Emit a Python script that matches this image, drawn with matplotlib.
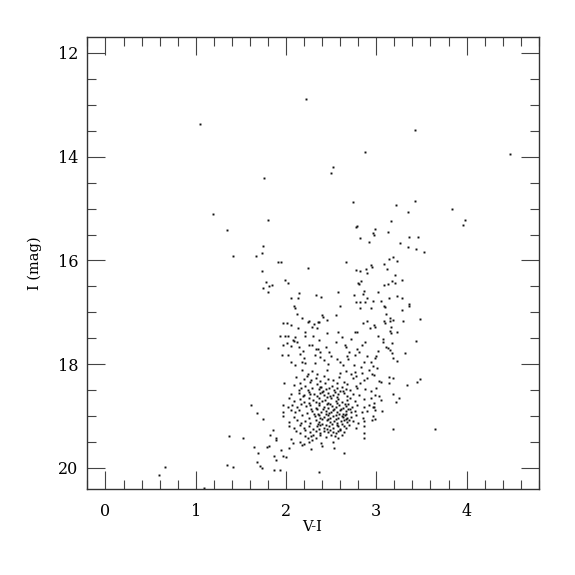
import matplotlib
matplotlib.use("Agg")
import matplotlib.pyplot as plt
import numpy as np
from matplotlib.ticker import MultipleLocator

# values (V-I colour, I magnitude)
bright = [(2.22,12.89),(1.05,13.37),(3.43,13.48),(2.88,13.90),(4.48,13.95),(2.52,14.20),(2.50,14.31),
  (1.76,14.41),(2.74,14.88),(3.43,14.85),(3.22,14.93),(3.84,15.01),(3.35,15.06),(1.19,15.10),
  (3.98,15.22),(3.96,15.32),(1.80,15.22),(3.16,15.23),(1.35,15.42),(1.41,15.92),(0.66,19.99),
  (0.59,20.14),(1.09,20.38),(1.37,19.38),(1.35,19.94),(1.41,19.99),(1.52,19.43),(3.65,19.24),(2.36,20.08)]

blue_plume = [(1.75,15.72),(1.73,15.85),(1.67,15.92),(1.91,16.03),(1.94,16.03),(1.73,16.21),(1.78,16.41),
  (1.84,16.47),(1.75,16.54),(1.81,16.50),(1.80,16.60),(1.99,16.38),(2.02,16.44),(2.24,16.14)]

rgb_upper = [(2.79,15.33),(2.78,15.36),(2.82,15.56),(2.99,15.39),(2.96,15.47),(2.97,15.50),(3.13,15.46),
  (2.92,15.65),(3.36,15.55),(3.46,15.54),(3.26,15.66),(3.35,15.75),(3.44,15.78),(3.53,15.83),(3.18,15.93),
  (3.14,15.97),(3.23,16.01),(3.08,16.06),(3.12,16.17),(3.21,16.28),(3.17,16.39),(3.21,16.43),(3.28,16.38),
  (3.08,16.47),(3.13,16.45),(2.67,16.03),(2.94,16.08),(2.95,16.12),(2.77,16.19),(2.82,16.21),(2.89,16.17),
  (2.90,16.25),(2.80,16.43),(2.81,16.46),(2.83,16.40),(2.58,16.61),(2.75,16.66),(2.86,16.58),(2.85,16.64),
  (2.90,16.72),(3.02,16.61),(3.05,16.78),(3.14,16.72),(3.23,16.68),(3.28,16.72),(2.78,16.80),(2.82,16.81),
  (2.87,16.80),(2.96,16.79),(3.09,16.87),(3.10,16.89),(2.94,16.92),(2.82,16.92),(3.36,16.83),(3.36,16.88),
  (3.28,16.96),(2.60,16.88),(2.55,17.05),(3.11,17.04),(3.15,17.10),(3.08,17.16),(3.15,17.17),(3.19,17.15),
  (3.30,17.16),(3.48,17.12),(2.85,17.20),(2.90,17.16),(2.97,17.25),(2.93,17.31),(2.99,17.28),(3.15,17.36),
  (3.23,17.38),(3.07,17.51),(3.44,17.55),(2.58,17.37),(2.76,17.37),(2.79,17.37),(3.02,17.45),(3.10,17.20),
  (3.16,17.29)]

rgb_lower = [(3.16,17.39),(3.07,17.57),(3.17,17.60),(3.11,17.66),(3.13,17.69),(3.15,17.72),(3.17,17.79),
  (3.32,17.78),(3.19,17.88),(3.23,17.93),(3.18,18.27),(3.48,18.28),(3.45,18.34),(3.14,18.36),(3.05,18.34),
  (3.34,18.40),(3.18,18.58),(3.25,18.66),(3.22,18.72),(3.05,18.68),(3.06,18.91),(3.18,19.24),
  (2.98,18.20),(3.00,18.45),(2.94,18.52),(2.90,18.90),(2.97,18.74),(2.88,18.47)]

mid_upper = [(2.14,16.62),(2.05,16.72),(2.13,16.72),(2.33,16.67),(2.39,16.71),(2.09,16.88),(2.10,16.92),
  (2.12,17.04),(2.18,17.11),(1.97,17.20),(2.01,17.21),(2.06,17.24),(2.24,17.18),(2.25,17.16),(2.40,17.06),
  (2.41,17.09),(2.45,17.14),(2.37,17.18),(2.35,17.18),(2.31,17.23),(2.13,17.31),(2.29,17.29),(2.34,17.30),
  (2.10,17.47),(1.93,17.45),(1.99,17.45),(2.02,17.46),(2.08,17.53),(2.09,17.56),(2.21,17.37),(2.21,17.45),
  (2.30,17.45),(2.37,17.54)]

clump_top = [(1.80,17.68),(1.97,17.63),(2.01,17.60),(2.05,17.65),(2.12,17.58),(2.14,17.66),(2.19,17.75),
  (2.26,17.63),(2.29,17.62),(2.33,17.70),(2.35,17.71),(2.38,17.77),(2.44,17.66),(2.48,17.77),(2.50,17.84),
  (2.66,17.66),(2.70,17.77),(2.68,17.84),(2.76,17.83),(2.79,17.70),(2.81,17.76),(3.00,17.84),(3.02,17.75),
  (1.96,17.83),(2.02,17.83),(2.65,17.62),(2.99,17.88),(2.16,17.80),(2.18,17.96),(2.32,17.82),(2.38,17.87),
  (2.42,17.92),(2.32,17.98),(2.47,18.00),(2.21,17.98),(2.63,18.01),(2.69,17.89),(2.75,18.01),(2.96,18.04),
  (3.01,18.07),(3.14,18.25),(2.20,17.88),(2.56,17.90),(2.60,17.95),(2.86,17.95),(2.83,18.05),(2.10,18.02),
  (2.05,17.95),(2.84,17.62),(2.88,17.58),(2.72,17.52),(2.62,17.48),(2.55,17.58),(2.45,17.40),(2.90,17.85),
  (2.94,17.95)]

clump_core = [
  (2.18,18.12),(2.24,18.18),(2.29,18.14),(2.34,18.19),(2.45,18.11),(2.60,18.16),(2.66,18.13),(2.72,18.19),
  (2.76,18.15),(2.84,18.17),(2.92,18.12),(2.95,18.18),
  (2.11,18.24),(2.20,18.29),(2.23,18.22),(2.28,18.30),(2.33,18.26),(2.38,18.33),(2.42,18.23),(2.47,18.28),
  (2.52,18.31),(2.59,18.25),(2.64,18.34),(2.74,18.27),(2.77,18.22),(2.86,18.30),(2.90,18.26),(3.03,18.33),
  (1.98,18.36),(2.09,18.40),(2.15,18.37),(2.21,18.42),(2.27,18.35),(2.34,18.39),(2.38,18.43),(2.43,18.36),
  (2.51,18.41),(2.56,18.37),(2.62,18.43),(2.68,18.38),(2.77,18.41),(2.82,18.36),
  (2.14,18.49),(2.17,18.45),(2.24,18.50),(2.29,18.46),(2.36,18.48),(2.39,18.44),(2.41,18.51),(2.44,18.47),
  (2.48,18.45),(2.53,18.50),(2.57,18.46),(2.63,18.52),(2.66,18.47),(2.71,18.49),(2.79,18.45),
  (2.05,18.58),(2.14,18.55),(2.20,18.60),(2.25,18.54),(2.31,18.57),(2.34,18.61),(2.38,18.55),(2.42,18.59),
  (2.46,18.56),(2.49,18.62),(2.54,18.54),(2.58,18.58),(2.64,18.55),(2.68,18.61),(2.74,18.57),(2.81,18.60),
  (2.99,18.60),(3.03,18.62),
  (2.03,18.66),(2.09,18.70),(2.15,18.67),(2.20,18.72),(2.26,18.65),(2.30,18.69),(2.33,18.73),(2.37,18.66),
  (2.40,18.71),(2.43,18.68),(2.46,18.74),(2.50,18.66),(2.55,18.70),(2.58,18.67),(2.62,18.73),(2.68,18.69),
  (2.71,18.65),(2.76,18.71),(2.86,18.67),(2.94,18.65),
  (1.97,18.78),(2.02,18.82),(2.07,18.79),(2.12,18.83),(2.17,18.77),(2.22,18.81),(2.27,18.78),(2.33,18.84),
  (2.37,18.79),(2.42,18.82),(2.45,18.77),(2.47,18.85),(2.51,18.80),(2.55,18.83),(2.59,18.78),(2.63,18.84),
  (2.66,18.80),(2.69,18.77),(2.73,18.82),(2.79,18.79),(2.86,18.83),(2.92,18.78),(2.96,18.83),
  (1.97,18.92),(2.06,18.88),(2.10,18.93),(2.14,18.89),(2.23,18.94),(2.29,18.90),(2.34,18.87),(2.39,18.93),
  (2.44,18.90),(2.48,18.94),(2.52,18.88),(2.56,18.92),(2.60,18.89),(2.63,18.95),(2.66,18.91),(2.69,18.87),
  (2.72,18.93),(2.76,18.90),(2.84,18.92),(2.99,18.89),
  (1.97,18.99),(2.09,19.02),(2.18,18.98),(2.25,19.03),(2.32,19.00),(2.36,18.97),(2.38,19.04),(2.42,19.01),
  (2.46,18.98),(2.49,19.04),(2.52,19.00),(2.55,18.97),(2.58,19.03),(2.62,19.00),(2.65,18.98),(2.68,19.04),
  (2.72,19.01),(2.78,18.98),(2.85,19.03),(2.96,18.99),
  (2.03,19.12),(2.12,19.08),(2.17,19.13),(2.21,19.09),(2.27,19.14),(2.33,19.07),(2.37,19.11),(2.40,19.15),
  (2.45,19.08),(2.49,19.12),(2.53,19.09),(2.57,19.14),(2.61,19.10),(2.64,19.07),(2.68,19.12),(2.74,19.09),
  (2.80,19.13),(2.86,19.10),(2.95,19.08),(2.99,19.05),
  (2.03,19.20),(2.09,19.23),(2.15,19.18),(2.20,19.22),(2.26,19.19),(2.30,19.24),(2.34,19.20),(2.38,19.17),
  (2.42,19.23),(2.48,19.19),(2.52,19.22),(2.56,19.18),(2.60,19.24),(2.64,19.20),(2.70,19.17),(2.77,19.22),
  (2.86,19.19),
  (2.11,19.28),(2.16,19.32),(2.21,19.27),(2.27,19.31),(2.33,19.29),(2.38,19.33),(2.42,19.28),(2.46,19.31),
  (2.49,19.27),(2.52,19.30),(2.55,19.32),(2.58,19.28),(2.64,19.31),(2.86,19.33),
  (2.05,19.44),(2.21,19.38),(2.24,19.42),(2.28,19.39),(2.33,19.43),(2.38,19.37),(2.44,19.41),(2.54,19.38),
  (2.58,19.43),(2.62,19.37),(2.86,19.42),
  (2.08,19.52),(2.16,19.49),(2.20,19.53),(2.25,19.50),(2.29,19.47),(2.39,19.51),(2.52,19.49)]

core_extra = [(2.40,18.53),(2.45,18.63),(2.52,18.59),(2.56,18.64),(2.60,18.52),(2.36,18.75),(2.41,18.86),
  (2.49,18.77),(2.53,18.86),(2.57,18.74),(2.61,18.86),(2.65,18.76),(2.35,18.96),(2.44,18.96),(2.50,18.92),
  (2.59,18.95),(2.63,19.02),(2.67,18.95),(2.71,18.86),(2.40,19.06),(2.47,19.05),(2.55,19.06),(2.62,19.15),
  (2.66,19.05),(2.70,19.08),(2.35,19.16),(2.44,19.18),(2.51,19.15),(2.58,19.20),(2.67,19.22),(2.30,19.36),
  (2.36,19.25),(2.45,19.25),(2.50,19.36),(2.60,19.27),(2.28,18.86),(2.31,18.96),(2.25,18.75),(2.19,18.62),
  (2.27,18.58)]

faint_tail = [(1.61,18.78),(1.68,18.94),(1.75,19.06),(1.86,19.27),(1.82,19.37),(1.89,19.42),(1.89,19.47),
  (1.81,19.58),(1.79,19.59),(1.64,19.60),(1.69,19.71),(1.68,19.89),(1.71,19.96),(1.73,20.00),(1.87,19.76),
  (1.89,19.84),(1.97,19.76),(2.00,19.78),(1.95,19.66),(1.87,20.03),(1.93,20.03),(2.64,19.72),(2.53,19.62),
  (2.40,19.58),(2.28,19.63),(2.18,19.56),(2.03,19.62),(2.98,18.83)]

groups = [bright, blue_plume, rgb_upper, rgb_lower, mid_upper, clump_top, clump_core, core_extra, faint_tail]
pts = np.array([p for g in groups for p in g])
vi, imag = pts[:, 0], pts[:, 1]

plt.rcParams['font.family'] = ['DejaVu Serif']
fig = plt.figure(figsize=(5.75, 5.75), dpi=100)
ax = fig.add_axes([0.152, 0.150, 0.785, 0.785])

ax.plot(vi, imag, ls="none", marker="s", ms=1.4, mew=0, color="#111111")

ax.set_xlim(-0.2, 4.8)
ax.set_ylim(20.4, 11.7)
ax.xaxis.set_major_locator(MultipleLocator(1))
ax.xaxis.set_minor_locator(MultipleLocator(0.2))
ax.yaxis.set_major_locator(MultipleLocator(2))
ax.yaxis.set_minor_locator(MultipleLocator(0.5))

for s in ax.spines.values():
  s.set_linewidth(1.0); s.set_color("#333333")
ax.tick_params(which="both", direction="in", top=True, right=True, color="#444444", width=0.8)
ax.tick_params(which="major", length=13, labelsize=11.5)
ax.tick_params(which="minor", length=6.5)
ax.tick_params(axis="x", which="major", pad=10)
ax.tick_params(axis="y", which="major", pad=6.5)

ax.set_xlabel("V-I", fontsize=10.5)
ax.set_ylabel("I (mag)", fontsize=10.5)
ax.xaxis.set_label_coords(0.498, -0.07)
ax.yaxis.set_label_coords(-0.10, 0.50)

fig.savefig("out.png", dpi=100)
